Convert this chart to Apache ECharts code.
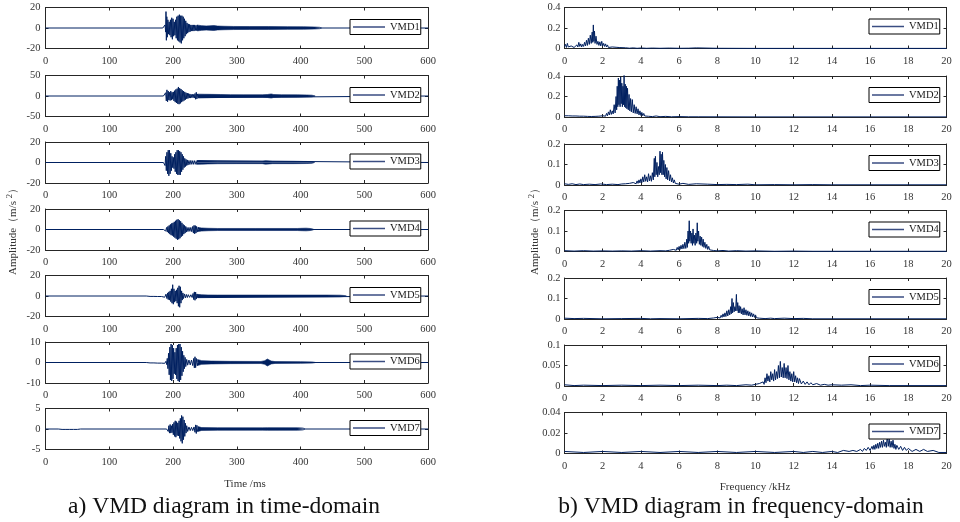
<!DOCTYPE html>
<html>
<head>
<meta charset="utf-8">
<script src="https://cdn.jsdelivr.net/npm/echarts@6/dist/echarts.min.js"></script>
<style>
html,body{margin:0;padding:0;background:#fff}
#main{width:960px;height:522px}
</style>
</head>
<body>
<div id="main"></div>
<script>
// ---- Component names ----
const modeNames = ['VMD1', 'VMD2', 'VMD3', 'VMD4', 'VMD5', 'VMD6', 'VMD7'];

// ---- Axis ranges ----
const timeRange = [0, 600, 100];          // ms: min, max, tick step
const freqRange = [0, 20, 2];             // kHz: min, max, tick step
const timeYMax = [20, 50, 20, 20, 20, 10, 5];
const freqYMax = [0.4, 0.4, 0.2, 0.2, 0.2, 0.1, 0.04];
const freqYStep = [0.2, 0.2, 0.1, 0.1, 0.1, 0.05, 0.02];

// ---- Time-domain components, main burst: [time (ms), acceleration (m/s^2)] ----
const timeVMD1 = [[0,0],[184,0],[185.5,1],[186.5,-1.5],[187.5,3],[188.5,-4],[189,16],[189.6,-12],[190.3,11],[191,-9],[192,8],[193,-6],[194,6],[195,-7],[196,8],[197,-9],[198,10],[199,-11],[200,9],[201,-8],[202,6],[203,-7],[204,8],[205,-10],[206,11],[207,-12],[208,12],[209,-13],[210,13],[211,-14],[212,12],[213,-15],[214,12],[215,-12],[216,11],[217,-10],[218,9],[219,-8],[220,7],[221,-6],[222,5],[223,-5],[224,4],[225,-4],[226,3.5],[227,-3.5],[228,3],[229,-3],[230,3],[231,-3],[232,3],[233,-3],[234,3],[235,-2.5],[236,2.5],[237,-2.5],[238,3],[239,-2.5],[240,0],[600,0]];
const timeVMD2 = [[0,0],[185,0],[186.5,2],[187.5,-4],[188.5,8],[189.5,-12],[190.5,15],[191.5,-14],[192.5,12],[193.5,-10],[194.5,9],[195.5,-11],[196.5,12],[197.5,-10],[198.5,9],[199.5,-8],[200.5,10],[201.5,-12],[202.5,13],[203.5,-15],[204.5,16],[205.5,-17],[206.5,18],[207.5,-19],[208.5,22],[209.5,-20],[210.5,19],[211.5,-18],[212.5,17],[213.5,-15],[214.5,14],[215.5,-13],[216.5,12],[217.5,-11],[218.5,10],[219.5,-9],[220.5,8],[221.5,-7],[222.5,7],[223.5,-6],[224.5,6],[225.5,-5],[226.5,5],[227.5,-5],[228.5,4],[229.5,-4],[230.5,4],[231.5,-4],[232.5,4],[233.5,-5],[234.5,6],[235.5,-8],[236.5,9],[237.5,-7],[238.5,5],[239.5,-4],[241,0],[600,0]];
const timeVMD3 = [[0,0],[185,0],[186.5,1.5],[187.5,-3],[188.5,6],[189.5,-8],[190.5,10],[191.5,-11],[192.5,12],[193.5,-13],[194.5,12],[195.5,-11],[196.5,9],[197.5,-8],[198.5,6],[199.5,-5],[200.5,5],[201.5,-6],[202.5,8],[203.5,-9],[204.5,10],[205.5,-11],[206.5,12],[207.5,-12],[208.5,12],[209.5,-12],[210.5,11],[211.5,-12],[212.5,10],[213.5,-9],[214.5,8],[215.5,-7],[216.5,6],[217.5,-5],[218.5,4],[219.5,-4],[220.5,3],[221.5,-3],[222.5,2.5],[223.5,-2.5],[225,2],[226.5,-2],[228,2],[229.5,-1.8],[231,1.8],[232.5,-1.8],[234,1.8],[236,-1.8],[238,1.8],[240,0],[600,0]];
const timeVMD4 = [[0,0],[185,0],[187,0.8],[188.5,-1.5],[190,2],[191,-2.5],[192,3],[193,-3.5],[194,4],[195,-4.5],[196,5],[197,-5.5],[198,6],[199,-6],[200,6.5],[201,-7],[202,7.5],[203,-8],[204,8.5],[205,-9],[206,9.5],[207,-10],[208,10],[209,-9.5],[210,9],[211,-8.5],[212,8],[213,-7],[214,6.5],[215,-6],[216,5],[217,-4.5],[218,4],[219,-3.5],[220,3],[221,-2.5],[222,2],[223.5,-2],[225,2],[226.5,-1.8],[228,2],[229.5,-2.2],[231,3],[232,-3.5],[233,4],[234,-4.2],[235,3.8],[236,-3.5],[237,3],[238,-2.5],[239.5,2],[241,0],[600,0]];
const timeVMD5 = [[0,0],[158,0],[161,0.4],[164,-0.4],[167,0.4],[170,-0.4],[173,0.4],[176,-0.5],[179,0.5],[182,-0.5],[185,0.8],[187,-1.2],[189,1.8],[190.5,-2.5],[191.5,3],[192.5,-3.5],[193.5,4],[194.5,-4],[195.5,5],[196.5,-5.5],[197.5,7],[198.5,-7],[199.5,11],[200.5,-8],[201.5,7],[202.5,-6],[203.5,5],[204.5,-5],[205.5,6],[206.5,-7],[207.5,8],[208.5,-10],[209.5,10],[210.5,-11],[211.5,9],[212.5,-7],[213.5,5],[214.5,-4],[215.5,3],[216.5,-2.5],[218,2],[219.5,-1.8],[221,1.5],[222.5,-1.5],[224,1.3],[226,-1.3],[228,1.2],[230,-1.5],[231.5,2.5],[232.5,-3.5],[233.5,4],[234.5,-4.2],[235.5,3.8],[236.5,-3],[237.5,2],[239,-1.6],[241,0],[600,0]];
const timeVMD6 = [[0,0],[158,0],[161,0.2],[164,-0.2],[167,0.2],[170,-0.2],[173,0.3],[176,-0.3],[179,0.3],[182,-0.3],[185,0.3],[187,-0.4],[189,0.6],[190,-1],[191,2],[192,-3],[193,4.5],[194,-6],[195,7.5],[196,-8.5],[197,9],[198,-9],[199,8.5],[200,-8],[201,7],[202,-5.5],[203,5],[204,-6],[205,7],[206,-8],[207,8.5],[208,-9],[209,9],[210,-9.5],[211,9],[212,-8.5],[213,7.5],[214,-6.5],[215,5.5],[216,-4.5],[217,3.5],[218,-3],[219,2.5],[220,-2],[221.5,1.5],[223,-1.3],[225,1.2],[227,-1.2],[229,1.2],[231,-1.5],[232.5,2],[233.5,-2.6],[234.5,2.8],[235.5,-2.5],[236.5,2],[238,-1.5],[240,0],[600,0]];
const timeVMD7 = [[0,0],[20,0],[23,0.1],[26,-0.1],[29,0.1],[32,-0.1],[35,0.1],[38,-0.1],[41,0.1],[44,-0.1],[47,0.1],[50,-0.1],[53,0.1],[55,0],[190,0],[191.5,0.3],[192.5,-0.6],[193.5,0.8],[194.5,-1],[195.5,1.1],[196.5,-1],[197.5,0.8],[198.5,-0.9],[199.5,1.2],[200.5,-1.4],[201.5,1.6],[202.5,-1.8],[203.5,2],[204.5,-2],[205.5,1.8],[206.5,-1.6],[207.5,1.5],[208.5,-1.7],[209.5,2],[210.5,-2.3],[211.5,2.6],[212.5,-3],[213.5,3.3],[214.5,-3.5],[215.5,3],[216.5,-2.6],[217.5,2.2],[218.5,-1.8],[219.5,1.4],[220.5,-1],[221.5,0.8],[223,-0.6],[225,0.5],[227,-0.4],[229,0.4],[231,-0.4],[233,0.5],[234.5,-0.8],[235.5,1],[236.5,-1.1],[237.5,0.9],[238.5,-0.6],[240,0],[600,0]];

// ---- Time-domain components, decaying tail: upper / lower envelope [time (ms), m/s^2] ----
const tailHiVMD1 = [[238,2.8],[245,2.3],[252,2],[258,2.1],[261,3],[264,2.4],[270,1.9],[280,1.7],[295,1.5],[320,1.4],[350,1.4],[380,1.3],[405,1.2],[422,1.0],[430,0.7],[433,0]];
const tailLoVMD1 = [[238,-2.8],[245,-2.3],[252,-2],[258,-2.2],[261,-2.8],[264,-2.4],[270,-1.9],[280,-1.7],[295,-1.5],[320,-1.4],[350,-1.4],[380,-1.3],[405,-1.2],[422,-1.0],[430,-0.7],[433,0]];
const tailHiVMD2 = [[239,4.5],[250,4.2],[260,4],[275,3.6],[290,3.2],[310,3],[340,3],[348,3.6],[354,5],[358,3.6],[370,3],[395,2.8],[410,2.5],[418,2],[421,1],[423,0]];
const tailLoVMD2 = [[239,-4.5],[250,-4.2],[260,-4],[275,-3.6],[290,-3.2],[310,-3],[340,-3],[348,-3.6],[354,-5],[358,-3.6],[370,-3],[395,-2.8],[410,-2.5],[418,-2],[421,-1],[423,0]];
const tailHiVMD3 = [[237,1.8],[245,1.6],[255,1.4],[270,1.2],[300,1.1],[340,1.1],[345,1.6],[348,2],[351,1.4],[356,1.1],[390,1.1],[410,1],[418,0.8],[422,0]];
const tailLoVMD3 = [[237,-1.8],[245,-1.6],[255,-1.4],[270,-1.2],[300,-1.1],[340,-1.1],[345,-1.6],[348,-2],[351,-1.4],[356,-1.1],[390,-1.1],[410,-1],[418,-0.8],[422,0]];
const tailHiVMD4 = [[239,2],[245,1.5],[255,1.2],[270,1.0],[330,1.0],[395,1.0],[403,1.2],[409,1.3],[415,1],[419,0.6],[421,0]];
const tailLoVMD4 = [[239,-2],[245,-1.5],[255,-1.2],[270,-1.0],[330,-1.0],[395,-1.0],[403,-1.2],[409,-1.3],[415,-1],[419,-0.6],[421,0]];
const tailHiVMD5 = [[238,1.6],[245,1.2],[255,1],[270,0.9],[350,0.9],[440,0.9],[462,0.8],[468,0.5],[472,0]];
const tailLoVMD5 = [[238,-1.6],[245,-1.2],[255,-1],[270,-0.9],[350,-0.9],[440,-0.9],[462,-0.8],[468,-0.5],[472,0]];
const tailHiVMD6 = [[238,1.5],[245,0.9],[260,0.7],[290,0.55],[338,0.5],[344,0.9],[348,1.7],[351,1.4],[354,0.7],[360,0.45],[400,0.4],[418,0.3],[424,0]];
const tailLoVMD6 = [[238,-1.5],[245,-0.9],[260,-0.7],[290,-0.55],[338,-0.5],[344,-0.9],[348,-1.7],[351,-1.4],[354,-0.7],[360,-0.45],[400,-0.4],[418,-0.3],[424,0]];
const tailHiVMD7 = [[239,0.6],[245,0.35],[270,0.3],[340,0.28],[348,0.32],[395,0.3],[404,0.25],[407,0]];
const tailLoVMD7 = [[239,-0.6],[245,-0.35],[270,-0.3],[340,-0.28],[348,-0.32],[395,-0.3],[404,-0.25],[407,0]];

// ---- Frequency-domain components: [frequency (kHz), amplitude (m/s^2)] ----
const freqVMD1 = [[0,0.02],[0.05,0.04],[0.1,0.01],[0.15,0.05],[0.2,0.015],[0.25,0.03],[0.3,0.01],[0.35,0.025],[0.4,0.012],[0.45,0.03],[0.5,0.01],[0.55,0.028],[0.6,0.012],[0.65,0.035],[0.7,0.015],[0.75,0.06],[0.8,0.02],[0.85,0.045],[0.9,0.015],[0.95,0.04],[1.0,0.02],[1.05,0.06],[1.1,0.025],[1.15,0.08],[1.2,0.03],[1.25,0.1],[1.3,0.04],[1.35,0.13],[1.4,0.05],[1.45,0.16],[1.48,0.06],[1.51,0.23],[1.54,0.07],[1.57,0.17],[1.6,0.05],[1.65,0.12],[1.7,0.04],[1.75,0.07],[1.8,0.03],[1.85,0.065],[1.9,0.025],[1.95,0.07],[2.0,0.025],[2.05,0.05],[2.1,0.02],[2.15,0.045],[2.2,0.015],[2.25,0.035],[2.3,0.01],[2.35,0.025],[2.4,0.008],[2.5,0.015],[2.6,0.005],[2.7,0.012],[2.8,0.004],[2.9,0.009],[3.0,0.003],[3.2,0.007],[3.4,0.003],[3.6,0.006],[3.8,0.002],[4.0,0.005],[4.3,0.002],[4.6,0.004],[5.0,0.002],[5.5,0.004],[6.0,0.002],[6.5,0.003],[6.9,0.006],[7.0,0.002],[8,0.002],[10,0.001],[12,0.001],[14,0.001],[16,0.001],[18,0.001],[20,0.001]];
const freqVMD2 = [[0,0.012],[0.1,0.006],[0.2,0.012],[0.3,0.005],[0.4,0.01],[0.5,0.005],[0.6,0.01],[0.7,0.004],[0.8,0.008],[0.9,0.004],[1.0,0.008],[1.1,0.003],[1.2,0.006],[1.3,0.003],[1.4,0.005],[1.5,0.003],[1.6,0.006],[1.7,0.003],[1.8,0.008],[1.9,0.004],[2.0,0.012],[2.05,0.005],[2.1,0.02],[2.15,0.008],[2.2,0.035],[2.25,0.012],[2.3,0.05],[2.35,0.02],[2.4,0.07],[2.45,0.025],[2.5,0.06],[2.55,0.03],[2.6,0.12],[2.65,0.04],[2.7,0.2],[2.73,0.07],[2.76,0.3],[2.79,0.1],[2.82,0.38],[2.85,0.12],[2.88,0.36],[2.91,0.1],[2.94,0.39],[2.97,0.13],[3.0,0.33],[3.03,0.1],[3.06,0.3],[3.09,0.12],[3.12,0.41],[3.15,0.1],[3.18,0.32],[3.21,0.09],[3.24,0.3],[3.27,0.08],[3.3,0.28],[3.34,0.07],[3.38,0.22],[3.42,0.06],[3.46,0.18],[3.5,0.05],[3.55,0.17],[3.6,0.04],[3.65,0.12],[3.7,0.035],[3.75,0.1],[3.8,0.03],[3.85,0.08],[3.9,0.02],[3.95,0.06],[4.0,0.015],[4.05,0.045],[4.1,0.012],[4.15,0.035],[4.2,0.01],[4.3,0.025],[4.4,0.007],[4.5,0.015],[4.6,0.004],[4.8,0.01],[5.0,0.003],[5.3,0.006],[5.6,0.002],[6.0,0.004],[6.5,0.002],[7,0.002],[10,0.001],[20,0.001]];
const freqVMD3 = [[0,0.006],[0.2,0.003],[0.4,0.006],[0.6,0.002],[0.8,0.005],[1.0,0.002],[1.3,0.004],[1.6,0.002],[1.9,0.005],[2.2,0.002],[2.5,0.004],[2.8,0.002],[3.0,0.005],[3.1,0.002],[3.2,0.006],[3.3,0.003],[3.4,0.008],[3.5,0.003],[3.6,0.012],[3.65,0.005],[3.7,0.015],[3.75,0.006],[3.8,0.02],[3.85,0.008],[3.9,0.025],[3.95,0.01],[4.0,0.03],[4.05,0.012],[4.1,0.04],[4.15,0.015],[4.2,0.05],[4.25,0.018],[4.3,0.04],[4.35,0.015],[4.4,0.055],[4.45,0.02],[4.5,0.045],[4.55,0.018],[4.6,0.06],[4.65,0.025],[4.7,0.13],[4.73,0.04],[4.76,0.14],[4.8,0.05],[4.84,0.11],[4.88,0.04],[4.92,0.09],[4.96,0.05],[5.0,0.165],[5.03,0.06],[5.06,0.15],[5.1,0.05],[5.13,0.16],[5.17,0.05],[5.2,0.12],[5.24,0.04],[5.28,0.1],[5.32,0.03],[5.36,0.085],[5.4,0.025],[5.45,0.07],[5.5,0.02],[5.55,0.05],[5.6,0.015],[5.65,0.035],[5.7,0.01],[5.75,0.025],[5.8,0.008],[5.9,0.015],[6.0,0.004],[6.2,0.008],[6.5,0.003],[6.9,0.006],[7.0,0.002],[7.5,0.004],[8,0.002],[8.5,0.003],[9,0.002],[9.6,0.004],[10,0.001],[11,0.002],[12,0.001],[13,0.002],[14,0.001],[20,0.001]];
const freqVMD4 = [[0,0.004],[0.5,0.002],[1,0.004],[1.5,0.002],[2,0.003],[2.5,0.002],[3,0.003],[3.5,0.002],[4,0.004],[4.5,0.002],[5,0.004],[5.3,0.003],[5.5,0.006],[5.6,0.003],[5.7,0.01],[5.75,0.004],[5.8,0.015],[5.85,0.006],[5.9,0.02],[5.95,0.008],[6.0,0.025],[6.05,0.01],[6.1,0.03],[6.15,0.012],[6.2,0.035],[6.25,0.014],[6.3,0.045],[6.35,0.015],[6.4,0.06],[6.43,0.02],[6.47,0.1],[6.5,0.04],[6.53,0.15],[6.56,0.05],[6.6,0.1],[6.63,0.04],[6.67,0.09],[6.7,0.03],[6.73,0.11],[6.77,0.04],[6.8,0.08],[6.84,0.03],[6.88,0.09],[6.92,0.04],[6.95,0.14],[6.98,0.05],[7.02,0.1],[7.06,0.035],[7.1,0.075],[7.14,0.03],[7.18,0.07],[7.22,0.025],[7.26,0.06],[7.3,0.02],[7.35,0.045],[7.4,0.015],[7.45,0.035],[7.5,0.01],[7.55,0.025],[7.6,0.008],[7.7,0.015],[7.8,0.005],[7.9,0.01],[8.0,0.003],[8.3,0.005],[8.6,0.002],[9,0.004],[9.5,0.002],[10,0.003],[11,0.001],[12,0.002],[13,0.001],[20,0.001]];
const freqVMD5 = [[0,0.004],[0.5,0.002],[1,0.003],[2,0.001],[3,0.002],[4,0.003],[4.5,0.001],[5,0.002],[6,0.001],[7,0.003],[7.5,0.002],[7.8,0.005],[7.9,0.003],[8.0,0.008],[8.05,0.004],[8.1,0.012],[8.15,0.005],[8.2,0.018],[8.25,0.008],[8.3,0.025],[8.35,0.01],[8.4,0.03],[8.45,0.012],[8.5,0.04],[8.55,0.015],[8.6,0.045],[8.65,0.02],[8.7,0.06],[8.73,0.025],[8.77,0.1],[8.8,0.03],[8.84,0.08],[8.88,0.035],[8.92,0.06],[8.96,0.04],[9.0,0.12],[9.03,0.04],[9.07,0.08],[9.1,0.03],[9.14,0.065],[9.18,0.03],[9.22,0.06],[9.26,0.025],[9.3,0.05],[9.35,0.02],[9.4,0.055],[9.45,0.02],[9.5,0.045],[9.55,0.018],[9.6,0.04],[9.65,0.015],[9.7,0.035],[9.75,0.012],[9.8,0.03],[9.85,0.01],[9.9,0.025],[9.95,0.008],[10.0,0.02],[10.05,0.006],[10.1,0.012],[10.2,0.004],[10.3,0.008],[10.5,0.002],[10.8,0.004],[11,0.002],[11.5,0.004],[12,0.002],[12.5,0.003],[13,0.001],[20,0.001]];
const freqVMD6 = [[0,0.003],[0.5,0.001],[1,0.002],[2,0.001],[3,0.002],[4,0.001],[5,0.002],[6,0.001],[7,0.002],[8,0.001],[8.5,0.002],[9,0.001],[9.5,0.003],[9.8,0.002],[10.0,0.004],[10.1,0.002],[10.2,0.006],[10.3,0.003],[10.4,0.01],[10.45,0.004],[10.5,0.02],[10.55,0.008],[10.6,0.03],[10.65,0.012],[10.7,0.025],[10.75,0.01],[10.8,0.035],[10.85,0.015],[10.9,0.03],[10.95,0.012],[11.0,0.04],[11.05,0.015],[11.1,0.035],[11.15,0.018],[11.2,0.05],[11.25,0.02],[11.3,0.06],[11.35,0.022],[11.4,0.045],[11.45,0.02],[11.5,0.055],[11.55,0.02],[11.6,0.045],[11.65,0.018],[11.7,0.05],[11.75,0.015],[11.8,0.035],[11.85,0.012],[11.9,0.03],[11.95,0.01],[12.0,0.035],[12.05,0.01],[12.1,0.025],[12.15,0.008],[12.2,0.02],[12.25,0.006],[12.3,0.018],[12.4,0.005],[12.5,0.012],[12.6,0.004],[12.7,0.01],[12.8,0.003],[12.9,0.008],[13.0,0.003],[13.2,0.006],[13.4,0.002],[13.6,0.004],[13.8,0.002],[14.0,0.003],[14.5,0.002],[15,0.003],[15.5,0.001],[16,0.002],[17,0.001],[20,0.001]];
const freqVMD7 = [[0,0.002],[1,0.001],[2,0.002],[3,0.001],[4,0.002],[5,0.001],[6,0.002],[7,0.001],[8,0.002],[9,0.001],[10,0.002],[11,0.001],[12,0.002],[12.5,0.001],[13,0.002],[13.5,0.001],[14,0.002],[14.3,0.001],[14.6,0.003],[14.9,0.002],[15.1,0.003],[15.3,0.002],[15.5,0.004],[15.6,0.002],[15.7,0.005],[15.8,0.003],[15.9,0.006],[16.0,0.003],[16.1,0.007],[16.15,0.004],[16.2,0.008],[16.25,0.004],[16.3,0.009],[16.35,0.005],[16.4,0.01],[16.45,0.005],[16.5,0.011],[16.55,0.006],[16.6,0.012],[16.65,0.006],[16.7,0.013],[16.75,0.007],[16.8,0.011],[16.85,0.006],[16.9,0.018],[16.95,0.007],[17.0,0.014],[17.05,0.006],[17.1,0.012],[17.15,0.006],[17.2,0.013],[17.25,0.005],[17.3,0.009],[17.35,0.004],[17.4,0.008],[17.5,0.004],[17.6,0.007],[17.7,0.003],[17.8,0.006],[17.9,0.003],[18.0,0.005],[18.2,0.002],[18.4,0.004],[18.6,0.002],[18.8,0.004],[19.0,0.002],[19.3,0.003],[19.6,0.001],[20,0.001]];

const timeSeries = [timeVMD1, timeVMD2, timeVMD3, timeVMD4, timeVMD5, timeVMD6, timeVMD7];
const tailHi = [tailHiVMD1, tailHiVMD2, tailHiVMD3, tailHiVMD4, tailHiVMD5, tailHiVMD6, tailHiVMD7];
const tailLo = [tailLoVMD1, tailLoVMD2, tailLoVMD3, tailLoVMD4, tailLoVMD5, tailLoVMD6, tailLoVMD7];
const freqSeries = [freqVMD1, freqVMD2, freqVMD3, freqVMD4, freqVMD5, freqVMD6, freqVMD7];

// ---- Layout (pixels) ----
const FONT = '"Liberation Serif", "Times New Roman", serif';
const LINE_COLOR = '#262626';
const LABEL_COLOR = '#333333';
const SIGNAL_COLOR = '#002060';
const leftPanel = { left: 45.5, width: 382.5, tops: [7.5, 75.5, 142, 209, 275.5, 342, 408.5], legendLeft: 350, legendDy: 12, yMargin: 5 };
const rightPanel = { left: 564.5, width: 382, tops: [7.5, 76, 144, 210.5, 278, 345, 412.5], legendLeft: 869, legendDy: 11.5, yMargin: 4 };
const PANEL_H = 41;

const grids = [], xAxes = [], yAxes = [], series = [], legends = [];

function axisBase(gi) {
  return {
    type: 'value', gridIndex: gi, splitLine: { show: false },
    axisLine: { show: true, onZero: false, lineStyle: { color: LINE_COLOR, width: 1 } },
    axisTick: { show: true, inside: true, length: 3, lineStyle: { color: LINE_COLOR, width: 1 } }
  };
}
function labelStyle(margin) {
  return { show: true, margin: margin, color: LABEL_COLOR, fontFamily: FONT, fontSize: 10.5, showMinLabel: true, showMaxLabel: true };
}
function lineSeries(gi, name, data, withArea) {
  const s = {
    type: 'line', data: data, xAxisIndex: 2 * gi, yAxisIndex: 2 * gi,
    symbol: 'none', showSymbol: false, sampling: null, clip: true, animation: false, silent: true,
    lineStyle: { color: SIGNAL_COLOR, width: withArea ? 0.6 : 1 }, itemStyle: { color: SIGNAL_COLOR },
    emphasis: { disabled: true }
  };
  if (name) s.name = name;
  if (withArea) s.areaStyle = { color: SIGNAL_COLOR, opacity: 1 };
  return s;
}

function addPanel(panel, row, xr, yMin, yMax, yStep, name, data, hi, lo) {
  const gi = grids.length;
  const top = panel.tops[row];
  grids.push({ left: panel.left, top: top, width: panel.width, height: PANEL_H, containLabel: false });
  const xb = axisBase(gi);
  xAxes.push(Object.assign({}, xb, { position: 'bottom', min: xr[0], max: xr[1], interval: xr[2], axisLabel: labelStyle(7) }));
  xAxes.push(Object.assign({}, xb, { position: 'top', min: xr[0], max: xr[1], interval: xr[2], axisLabel: { show: false } }));
  const yb = axisBase(gi);
  yAxes.push(Object.assign({}, yb, { position: 'left', min: yMin, max: yMax, interval: yStep, axisLabel: labelStyle(panel.yMargin) }));
  yAxes.push(Object.assign({}, yb, { position: 'right', min: yMin, max: yMax, interval: yStep, axisLabel: { show: false } }));
  series.push(lineSeries(gi, name, data, false));
  // dense low-level ringing after the burst, drawn as a filled band between its envelopes
  if (hi) series.push(lineSeries(gi, null, hi, true));
  if (lo) series.push(lineSeries(gi, null, lo, true));
  // legend box: a thin bar drawn as the line sample, then the label
  legends.push({
    data: [name], left: panel.legendLeft, top: top + panel.legendDy, orient: 'horizontal',
    icon: 'rect', itemWidth: 32, itemHeight: 1.5, itemGap: 5, padding: [2, 1, 2, 3],
    itemStyle: { color: '#3a4d82', borderWidth: 0 },
    borderColor: '#000', borderWidth: 1, borderRadius: 0, backgroundColor: '#fff',
    selectedMode: false,
    textStyle: { fontFamily: FONT, fontSize: 10.5, color: '#1a1a1a' }
  });
}

for (let i = 0; i < modeNames.length; i++) {
  addPanel(leftPanel, i, timeRange, -timeYMax[i], timeYMax[i], timeYMax[i], modeNames[i], timeSeries[i], tailHi[i], tailLo[i]);
}
for (let i = 0; i < modeNames.length; i++) {
  addPanel(rightPanel, i, freqRange, 0, freqYMax[i], freqYStep[i], modeNames[i], freqSeries[i], null, null);
}

function amplitudeTitle(x, y) {
  return {
    type: 'text', x: x, y: y, rotation: Math.PI / 2,
    style: {
      text: 'Amplitude（m/s {sup|2}）',
      font: '11px ' + FONT, fill: '#333',
      textAlign: 'center', textVerticalAlign: 'middle', align: 'center', verticalAlign: 'middle',
      rich: { sup: { fontSize: 8.5, fontFamily: FONT, fill: '#333', padding: [0, 0, 6, 0] } }
    }
  };
}
function plainText(x, y, text, size, color) {
  return {
    type: 'text', x: x, y: y,
    style: { text: text, font: size + 'px ' + FONT, fill: color, textAlign: 'center', textVerticalAlign: 'middle', align: 'center', verticalAlign: 'middle' }
  };
}

const chart = echarts.init(document.getElementById('main'), null, { renderer: 'canvas' });
chart.setOption({
  animation: false,
  backgroundColor: '#fff',
  grid: grids, xAxis: xAxes, yAxis: yAxes, series: series, legend: legends,
  graphic: [
    amplitudeTitle(13, 229),
    amplitudeTitle(535, 229),
    plainText(245, 484, 'Time /ms', 11, '#333'),
    plainText(755, 487, 'Frequency /kHz', 11, '#333'),
    plainText(224, 507, 'a) VMD diagram in time-domain', 23.5, '#111'),
    plainText(741, 507, 'b) VMD diagram in frequency-domain', 23.5, '#111')
  ]
});
</script>
</body>
</html>
